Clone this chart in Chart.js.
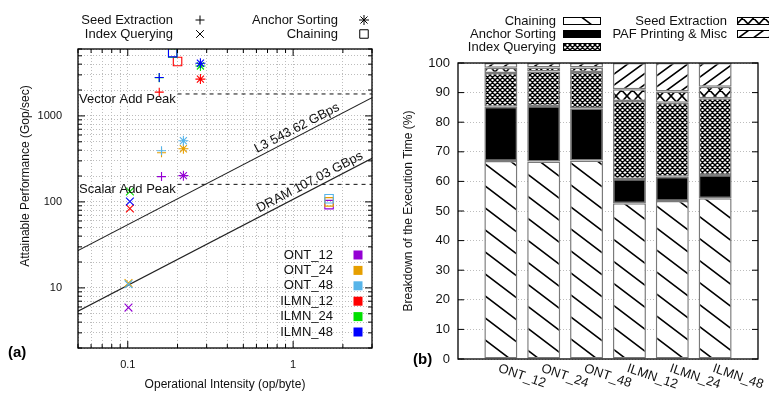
<!DOCTYPE html>
<html>
<head>
<meta charset="utf-8">
<script src="https://cdn.jsdelivr.net/npm/chart.js@4.4.0/dist/chart.umd.min.js"></script>
<style>
  html, body { margin: 0; padding: 0; background: #fff; }
  #wrapA { position: absolute; left: 0; top: 0; width: 385px; height: 394px; }
  #wrapB { position: absolute; left: 385px; top: 0; width: 384px; height: 394px; }
</style>
</head>
<body>
<div id="wrapA"><canvas id="roofline"></canvas></div>
<div id="wrapB"><canvas id="breakdown"></canvas></div>
<script>
const FONT = '"Liberation Sans", Arial, sans-serif';

// ---- (a) roofline data ----
const runs = ["ONT_12", "ONT_24", "ONT_48", "ILMN_12", "ILMN_24", "ILMN_48"];
const runColors = ["#9400d3", "#e69f00", "#56b4e9", "#ff0000", "#00e000", "#0000ff"];

const stageNames = ["Seed Extraction", "Index Querying", "Anchor Sorting", "Chaining"];
const stageMarks = ["cross", "crossRot", "star", "rect"];
const markRadius = [4.5, 5.5, 5, 6];

// operational intensity (op/byte) and attainable performance (Gop/sec), one per run
const seedOI = [0.16, 0.16, 0.16, 0.155, 0.155, 0.155];
const seedPerf = [197, 373, 394, 1890, 2780, 2800];
const indexOI = [0.101, 0.101, 0.101, 0.103, 0.103, 0.103];
const indexPerf = [5.9, 11.4, 11.0, 84, 132, 101];
const sortOI = [0.217, 0.217, 0.217, 0.275, 0.275, 0.275];
const sortPerf = [202, 415, 514, 2680, 3810, 4100];
const chainOI = [1.65, 1.65, 1.65, 0.2, 0.187, 0.187];
const chainPerf = [93, 100, 109, 4290, 5400, 5450];

const bwNames = ["L3", "DRAM"];
const bandwidths = [543.62, 107.03];
const bwLabelAt = [0.62, 0.64];
const peakNames = ["Vector Add Peak", "Scalar Add Peak"];
const peaks = [1800, 160];
const peakStart = 0.2;

const xRange = [0.05, 3];
const yRange = [2, 6000];
const xTickLabels = [0.1, 1];
const yTickLabels = [10, 100, 1000];

// ---- (b) breakdown data (%) ----
const stages = ["Chaining", "Anchor Sorting", "Index Querying", "Seed Extraction", "PAF Printing & Misc"];
const chaining = [66.9, 66.7, 67.1, 52.6, 53.4, 54.3];
const anchorSorting = [18.3, 18.8, 17.6, 8.2, 8.2, 7.9];
const indexQuerying = [11.4, 11.6, 12.3, 26.4, 25.0, 25.9];
const seedExtraction = [1.8, 1.4, 1.5, 3.9, 3.8, 3.9];
const pafMisc = [1.6, 1.5, 1.5, 8.9, 9.6, 8.0];

Chart.defaults.font.family = FONT;
Chart.defaults.color = "#111";

function logTicks(min, max) {
  const out = [];
  for (let e = -3; e <= 4; e++) {
    for (let m = 1; m <= 9; m++) {
      const v = parseFloat((m * Math.pow(10, e)).toPrecision(6));
      if (v >= min - 1e-12 && v <= max + 1e-12) out.push({ value: v });
    }
  }
  return out;
}
function isDecade(v) {
  const l = Math.log10(v);
  return Math.abs(l - Math.round(l)) < 1e-6;
}
function pickLabel(list, v) {
  const hit = list.find((t) => Math.abs(t - v) / t < 1e-6);
  return hit !== undefined ? String(hit) : "";
}

function drawMark(ctx, style, x, y, r) {
  ctx.beginPath();
  if (style === "cross" || style === "star") {
    ctx.moveTo(x - r, y); ctx.lineTo(x + r, y);
    ctx.moveTo(x, y - r); ctx.lineTo(x, y + r);
  }
  if (style === "crossRot" || style === "star") {
    const d = r * Math.SQRT1_2;
    ctx.moveTo(x - d, y - d); ctx.lineTo(x + d, y + d);
    ctx.moveTo(x - d, y + d); ctx.lineTo(x + d, y - d);
  }
  if (style === "rect") {
    const d = r * Math.SQRT1_2;
    ctx.rect(x - d, y - d, 2 * d, 2 * d);
  }
  ctx.stroke();
}

function insideTicks(ctx, scale, area, majorTest, sides, longLen, shortLen) {
  ctx.beginPath();
  scale.ticks.forEach((t) => {
    const p = scale.getPixelForValue(t.value);
    const len = majorTest(t.value) ? longLen : shortLen;
    if (scale.isHorizontal()) {
      if (p < area.left - 0.5 || p > area.right + 0.5) return;
      if (sides.includes("bottom")) { ctx.moveTo(p, area.bottom); ctx.lineTo(p, area.bottom - len); }
      if (sides.includes("top")) { ctx.moveTo(p, area.top); ctx.lineTo(p, area.top + len); }
    } else {
      if (p < area.top - 0.5 || p > area.bottom + 0.5) return;
      if (sides.includes("left")) { ctx.moveTo(area.left, p); ctx.lineTo(area.left + len, p); }
      if (sides.includes("right")) { ctx.moveTo(area.right, p); ctx.lineTo(area.right - len, p); }
    }
  });
  ctx.stroke();
}

// ---------------- (a) ----------------
const rooflineDecor = {
  id: "rooflineDecor",
  afterDatasetsDraw(chart) {
    const { ctx, chartArea: a, scales: { x, y } } = chart;
    ctx.save();
    ctx.strokeStyle = "#000";
    ctx.lineWidth = 1;
    insideTicks(ctx, x, a, isDecade, ["bottom", "top"], 7, 4);
    insideTicks(ctx, y, a, isDecade, ["left", "right"], 7, 4);
    ctx.lineWidth = 1.3;
    ctx.strokeRect(a.left, a.top, a.right - a.left, a.bottom - a.top);

    ctx.fillStyle = "#111";
    ctx.font = "13px " + FONT;
    ctx.textAlign = "left";
    ctx.textBaseline = "middle";
    peakNames.forEach((n, i) => ctx.fillText(n, a.left + 1, y.getPixelForValue(peaks[i]) + 5));

    bandwidths.forEach((bw, i) => {
      const xv = bwLabelAt[i];
      const x0 = x.getPixelForValue(xv), y0 = y.getPixelForValue(bw * xv);
      const x1 = x.getPixelForValue(xv * 2), y1 = y.getPixelForValue(bw * xv * 2);
      ctx.save();
      ctx.translate(x0, y0);
      ctx.rotate(Math.atan2(y1 - y0, x1 - x0));
      ctx.textBaseline = "alphabetic";
      ctx.fillText(bwNames[i] + " " + bw.toFixed(2) + " GBps", 0, -4);
      ctx.restore();
    });

    // y axis title, placed a little above centre as in the original
    ctx.save();
    ctx.font = "12px " + FONT;
    ctx.textAlign = "center";
    ctx.translate(26, a.top + (a.bottom - a.top) * 0.425);
    ctx.rotate(-Math.PI / 2);
    ctx.fillText("Attainable Performance (Gop/sec)", 0, 0);
    ctx.restore();

    // stage (shape) key above the plot
    const keyCols = [{ textRight: 173, mark: 200 }, { textRight: 338, mark: 364 }];
    const keyRows = [20, 34];
    ctx.textAlign = "right";
    ctx.lineWidth = 1;
    stageNames.forEach((n, i) => {
      const col = keyCols[Math.floor(i / 2)], row = keyRows[i % 2];
      ctx.fillText(n, col.textRight, row);
      drawMark(ctx, stageMarks[i], col.mark, row, markRadius[i]);
    });

    // run (colour) key inside the plot
    runs.forEach((n, i) => {
      const row = a.bottom - 93 + i * 15.4;
      ctx.fillStyle = "#111";
      ctx.fillText(n, a.right - 39, row);
      ctx.fillStyle = runColors[i];
      ctx.fillRect(a.right - 18.5, row - 4.5, 9, 9);
    });

    ctx.fillStyle = "#000";
    ctx.font = "bold 15px " + FONT;
    ctx.textAlign = "left";
    ctx.fillText("(a)", 8, 353);
    ctx.restore();
  },
};

const pointSets = runs.map((run, r) => ({
  label: run,
  data: [seedOI, indexOI, sortOI, chainOI].map((oi, s) => ({
    x: oi[r],
    y: [seedPerf, indexPerf, sortPerf, chainPerf][s][r],
  })),
  pointStyle: stageMarks,
  pointRadius: markRadius,
  pointBorderWidth: 1.1,
  borderColor: runColors[r],
  pointBorderColor: runColors[r],
  backgroundColor: "rgba(0,0,0,0)",
  pointBackgroundColor: "rgba(0,0,0,0)",
  showLine: false,
  order: -r,
}));

const roofSets = bandwidths.map((bw) => ({
  label: "bw" + bw,
  data: xRange.map((v) => ({ x: v, y: bw * v })),
  showLine: true,
  pointRadius: 0,
  borderColor: "#222",
  borderWidth: 1.1,
  order: 10,
}));

const peakSets = peaks.map((p) => ({
  label: "peak" + p,
  data: [{ x: peakStart, y: p }, { x: xRange[1], y: p }],
  showLine: true,
  pointRadius: 0,
  borderColor: "#111",
  borderWidth: 1,
  borderDash: [4, 4],
  order: 10,
}));

new Chart(document.getElementById("roofline").getContext("2d"), {
  type: "scatter",
  data: { datasets: [...pointSets, ...roofSets, ...peakSets] },
  options: {
    responsive: true,
    maintainAspectRatio: false,
    animation: false,
    layout: { padding: { top: 49, right: 13, left: 0, bottom: 0 } },
    plugins: { legend: { display: false }, tooltip: { enabled: false } },
    scales: {
      x: {
        type: "logarithmic",
        min: xRange[0],
        max: xRange[1],
        afterBuildTicks: (s) => { s.ticks = logTicks(xRange[0], xRange[1]); },
        afterFit: (s) => { s.height = 46; },
        grid: { color: "#bdbdbd", lineWidth: 1, drawTicks: false },
        border: { display: false, dash: [1, 2] },
        ticks: {
          autoSkip: false, maxRotation: 0, padding: 10,
          font: { size: 11 },
          callback: (v) => pickLabel(xTickLabels, v),
        },
        title: {
          display: true, text: "Operational Intensity (op/byte)",
          font: { size: 12 }, padding: { top: 0, bottom: 2 },
        },
      },
      y: {
        type: "logarithmic",
        min: yRange[0],
        max: yRange[1],
        afterBuildTicks: (s) => { s.ticks = logTicks(yRange[0], yRange[1]); },
        afterFit: (s) => { s.width = 78; },
        grid: { color: "#bdbdbd", lineWidth: 1, drawTicks: false },
        border: { display: false, dash: [1, 2] },
        ticks: {
          autoSkip: false, padding: 16,
          font: { size: 11 },
          callback: (v) => pickLabel(yTickLabels, v),
        },
        title: { display: false },
      },
    },
  },
  plugins: [rooflineDecor],
});

// ---------------- (b) ----------------
function makePattern(kind) {
  const dims = { back: [29, 22], fwd: [15, 11], xx: [11, 12], check: [5, 5] }[kind];
  const [w, h] = dims;
  const c = document.createElement("canvas");
  c.width = w; c.height = h;
  const g = c.getContext("2d");
  g.fillStyle = "#fff";
  g.fillRect(0, 0, w, h);
  g.strokeStyle = "#000";
  g.lineWidth = kind === "check" ? 1.4 : 1.6;
  g.beginPath();
  for (let k = -1; k <= 1; k++) {
    if (kind === "back" || kind === "xx" || kind === "check") {
      g.moveTo(-w, -h + k * h); g.lineTo(2 * w, 2 * h + k * h);
    }
    if (kind === "fwd" || kind === "xx" || kind === "check") {
      g.moveTo(-w, 2 * h + k * h); g.lineTo(2 * w, -h + k * h);
    }
  }
  g.stroke();
  return g.createPattern(c, "repeat");
}

const breakdownCtx = document.getElementById("breakdown").getContext("2d");
const stageFills = [
  makePattern("back"),
  "#000",
  makePattern("check"),
  makePattern("xx"),
  makePattern("fwd"),
];
const stageValues = [chaining, anchorSorting, indexQuerying, seedExtraction, pafMisc];
const slotLabels = ["", ...runs, ""];

const breakdownDecor = {
  id: "breakdownDecor",
  afterDatasetsDraw(chart) {
    const { ctx, chartArea: a, scales: { x, y } } = chart;
    ctx.save();
    ctx.strokeStyle = "#000";
    ctx.lineWidth = 1;
    insideTicks(ctx, y, a, (v) => v % 10 === 0, ["left", "right"], 6, 3);
    ctx.lineWidth = 1.3;
    ctx.strokeRect(a.left, a.top, a.right - a.left, a.bottom - a.top);

    // rotated category labels
    ctx.fillStyle = "#111";
    ctx.font = "13px " + FONT;
    ctx.textAlign = "left";
    ctx.textBaseline = "top";
    runs.forEach((n, i) => {
      const px = x.getPixelForValue(i + 1);
      ctx.save();
      ctx.translate(px, a.bottom + 3);
      ctx.rotate(0.33);
      ctx.fillText(n, 0, 0);
      ctx.restore();
    });

    // key
    ctx.textBaseline = "middle";
    ctx.textAlign = "right";
    const cols = [{ textRight: 171, box: 178 }, { textRight: 342, box: 352 }];
    const rows = [21, 34, 47];
    stages.forEach((n, i) => {
      const col = cols[i < 3 ? 0 : 1], row = rows[i < 3 ? i : i - 3];
      ctx.fillStyle = "#111";
      ctx.fillText(n, col.textRight, row);
      ctx.fillStyle = stageFills[i];
      ctx.fillRect(col.box, row - 3.5, 38, 7);
      ctx.lineWidth = 1;
      ctx.strokeStyle = "#000";
      ctx.strokeRect(col.box + 0.5, row - 3.5, 37, 7);
    });

    ctx.fillStyle = "#000";
    ctx.font = "bold 15px " + FONT;
    ctx.textAlign = "left";
    ctx.fillText("(b)", 28, 360);
    ctx.restore();
  },
};

new Chart(breakdownCtx, {
  type: "bar",
  data: {
    labels: slotLabels,
    datasets: stages.map((s, i) => ({
      label: s,
      data: [null, ...stageValues[i], null],
      backgroundColor: stageFills[i],
      borderColor: "#7a7a7a",
      borderWidth: 1.5,
      borderSkipped: false,
      barPercentage: 0.77,
      categoryPercentage: 1,
    })),
  },
  options: {
    responsive: true,
    maintainAspectRatio: false,
    animation: false,
    layout: { padding: { top: 63, right: 11, left: 0, bottom: 0 } },
    plugins: { legend: { display: false }, tooltip: { enabled: false } },
    scales: {
      x: {
        stacked: true,
        offset: false,
        afterFit: (s) => { s.height = 35; },
        grid: { display: false, offset: false },
        border: { display: false },
        ticks: { display: false },
      },
      y: {
        stacked: true,
        min: 0,
        max: 100,
        afterFit: (s) => { s.width = 73; },
        grid: { color: "#bdbdbd", drawTicks: false },
        border: { display: false, dash: [1, 2] },
        ticks: {
          stepSize: 5, padding: 8,
          font: { size: 13 },
          callback: (v) => (v % 10 === 0 ? v : ""),
        },
        title: {
          display: true, text: "Breakdown of the Execution Time (%)",
          font: { size: 12 }, padding: { top: 16, bottom: 0 },
        },
      },
    },
  },
  plugins: [breakdownDecor],
});
</script>
</body>
</html>
